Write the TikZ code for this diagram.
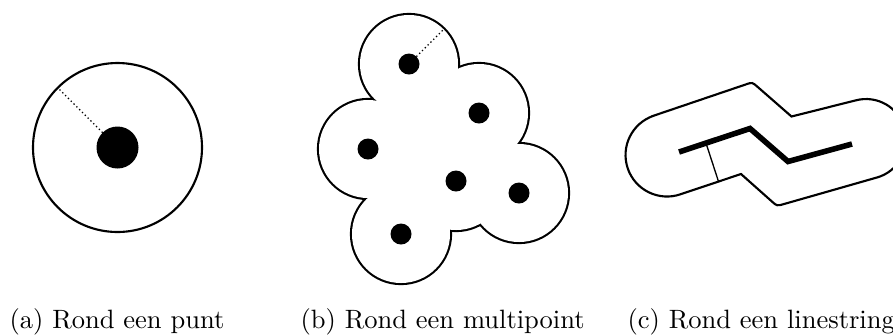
\documentclass[tikz,border=0pt]{standalone}
\usetikzlibrary{calc}
\tikzset{
  outline/.style={line width=0.8pt, draw=black},
  unionstroke/.style={line width=1.6pt, draw=black},
  radline/.style={line width=0.5pt, densely dotted},
  radsolid/.style={line width=0.5pt},
  thickline/.style={line width=2.1pt},
  capt/.style={anchor=base west, inner sep=0pt},
}
\begin{document}
\begin{tikzpicture}[x=0.377pt,y=-0.377pt]
\useasboundingbox (0,0) rectangle (893,334);

% ---------- (a) ----------
\coordinate (ca) at (117.5,147.5);
\draw[outline] (ca) circle[radius=84.5];
\fill (ca) circle[radius=21];
\coordinate (ra0) at ($(ca)+(225:21)$);
\coordinate (ra1) at ($(ca)+(225:84.5)$);
\draw[radline] (ra0) -- (ra1);

% ---------- (b) ----------
\coordinate (d1) at (409,64);
\coordinate (d2) at (479,113);
\coordinate (d3) at (368,149);
\coordinate (d4) at (456,181);
\coordinate (d5) at (519,193);
\coordinate (d6) at (401,234);
\foreach \p in {d1,d2,d3,d4,d5,d6} \draw[unionstroke] (\p) circle[radius=49];
\foreach \p in {d1,d2,d3,d4,d5,d6} \fill[white] (\p) circle[radius=49];
\fill[white] (d1) -- (d2) -- (d5) -- (d4) -- (d6) -- (d3) -- cycle;
\foreach \p in {d1,d2,d3,d4,d5,d6} \fill[black] (\p) circle[radius=10.5];
\coordinate (rb0) at ($(d1)+(-45:10.5)$);
\coordinate (rb1) at ($(d1)+(-45:49)$);
\draw[radline] (rb0) -- (rb1);

% ---------- (c) ----------
\coordinate (p1) at (679,152);
\coordinate (p2) at (750,128.5);
\coordinate (p3) at (788,161.5);
\coordinate (p4) at (852,144);
\draw[outline]
  (653.6,115.7) -- (745.6,84.5) .. controls (752.2,82.2) .. (757.5,86.8)
  -- (791.5,116.5) -- (855.6,100.4)
  arc[start angle=-105.1, end angle=73.7, radius=40]
  -- (783.7,204.1) .. controls (777,206) .. (771.8,201.4)
  -- (741,174) -- (680.4,194.3)
  arc[start angle=71.2, end angle=251.2, radius=41.5] -- cycle;
\draw[thickline] (p1) -- (p2) -- (p3) -- (p4);
\coordinate (rc0) at ($(p1)!0.38!(p2)$);
\coordinate (rc1) at (718.5,181.5);
\draw[radsolid] (rc0) -- (rc1);

% ---------- captions ----------
\node[capt] (capa) at (9,328) {(a) Rond een punt};
\node[capt] (capb) at (300,328) {(b) Rond een multipoint};
\node[capt] (capc) at (627,328) {(c) Rond een linestring};
\end{tikzpicture}
\end{document}
